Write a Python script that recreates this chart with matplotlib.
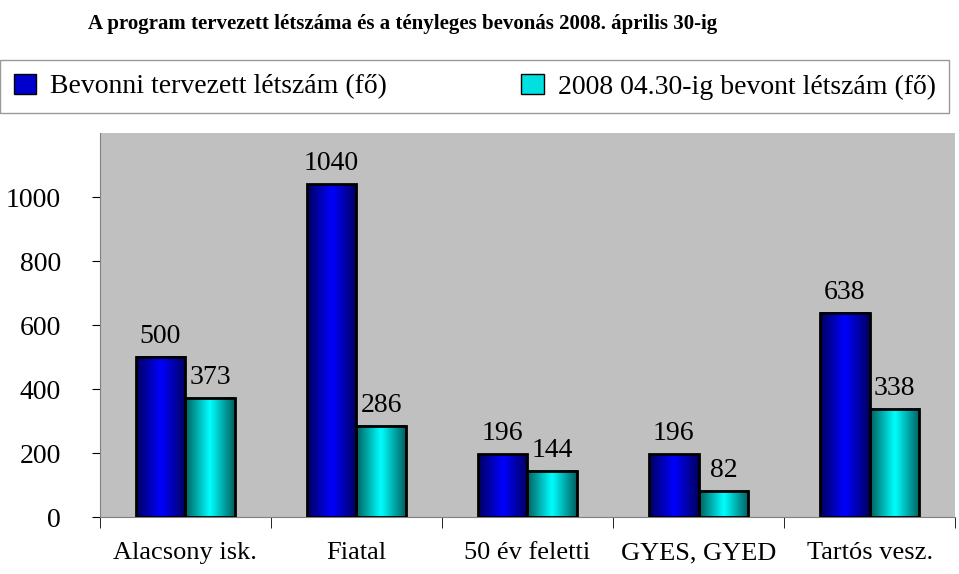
import numpy as np
import matplotlib.pyplot as plt
from matplotlib.colors import LinearSegmentedColormap
from matplotlib.patches import Rectangle, Patch

categories = ["Alacsony isk.", "Fiatal", "50 év feletti", "GYES, GYED", "Tartós vesz."]
planned = [500, 1040, 196, 196, 638]
actual = [373, 286, 144, 82, 338]
yticks = [0, 200, 400, 600, 800, 1000]

plt.rcParams["font.family"] = "Liberation Serif"
fig = plt.figure(figsize=(9.59, 5.74), dpi=100)
ax = fig.add_axes([0.104, 0.099, 0.892, 0.669])
ax.set_facecolor("#c0c0c0")

blue_cm = LinearSegmentedColormap.from_list("b", ["#000060", "#0000ff", "#000060"])
cyan_cm = LinearSegmentedColormap.from_list("c", ["#006060", "#00ffff", "#006060"])
grad = np.linspace(0, 1, 64).reshape(1, -1)
w = 0.29

def gbar(x0, h, cmap):
    ax.imshow(grad, cmap=cmap, aspect="auto", extent=[x0, x0 + w, 0, h], zorder=2)
    ax.add_patch(Rectangle((x0, 0), w, h, fill=False, ec="black", lw=2, zorder=3))

for i, (p, a) in enumerate(zip(planned, actual)):
    gbar(i - w, p, blue_cm)
    gbar(i, a, cyan_cm)
    ax.text(i - w / 2, p + 25, str(p), ha="center", va="bottom", fontsize=20)
    ax.text(i + w / 2, a + 25, str(a), ha="center", va="bottom", fontsize=20)

ax.set_xlim(-0.5, len(categories) - 0.5)
ax.set_ylim(0, 1200)
ax.set_yticks(yticks)
ax.set_yticklabels([str(t) for t in yticks], fontsize=20)
ax.set_xticks(np.arange(len(categories)))
ax.set_xticklabels(categories, fontsize=19)
ax.set_xticks(np.arange(len(categories) + 1) - 0.5, minor=True)
ax.tick_params(axis="x", which="major", length=0, pad=18)
ax.tick_params(axis="x", which="minor", length=8)
ax.tick_params(axis="y", length=6, pad=22)
for s in ["top", "right"]:
    ax.spines[s].set_visible(False)
ax.spines["left"].set_color("#808080")
ax.spines["bottom"].set_color("#808080")

fig.text(0.092, 0.975, "A program tervezett létszáma és a tényleges bevonás 2008. április 30-ig",
         fontsize=15, fontweight="bold", va="top")

handles = [Patch(facecolor="#0000cc", edgecolor="black"),
           Patch(facecolor="#00e0e0", edgecolor="black")]
fig.legend(handles, ["Bevonni tervezett létszám (fő)", "2008 04.30-ig bevont létszám (fő)"],
           loc="upper left", bbox_to_anchor=(0.0, 0.803, 0.99, 0.092), mode="expand",
           ncol=2, fontsize=20, frameon=True, fancybox=False, edgecolor="#808080",
           handlelength=0.8, handletextpad=0.5, columnspacing=0.8, borderaxespad=0,
           borderpad=0.5)

fig.savefig("out.png", dpi=100)
